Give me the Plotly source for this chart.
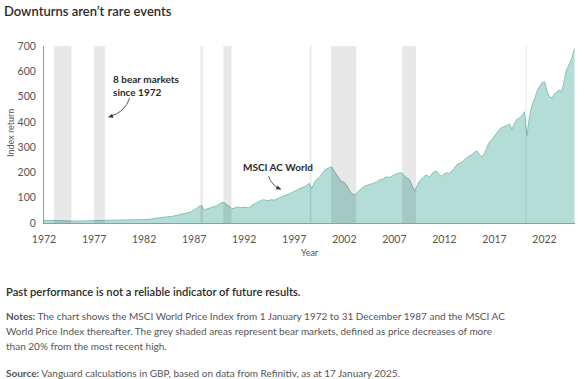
import pandas as pd
import plotly.graph_objects as go

# ---------------- data ----------------
start_date = "1972-01-01"
index_values = [
    10, 10.5, 11, 11,        # 1972
    11, 10, 9.5, 9,          # 1973
    8, 7, 6, 5.5,            # 1974
    6.5, 7, 7.5, 8,          # 1975
    8.5, 9, 9.5, 10,         # 1976
    10.5, 10.5, 10, 10,      # 1977
    10, 10.5, 11, 11,        # 1978
    11, 11.5, 11.5, 11,      # 1979
    11.5, 11.5, 12, 12.5,    # 1980
    12.5, 13, 13, 13,        # 1981
    13, 13.5, 14, 16,        # 1982
    18, 20, 21, 21,          # 1983
    23, 24, 24, 26,          # 1984
    28, 30, 31, 33,          # 1985
    36, 40, 42, 45,          # 1986
    50, 58, 66, 68,          # 1987
    52, 55, 57, 60,          # 1988
    63, 68, 74, 80,          # 1989
    82, 72, 68, 57,          # 1990
    58, 63, 62, 61,          # 1991
    63, 62, 60, 70,          # 1992
    75, 80, 86, 90,          # 1993
    92, 88, 90, 92,          # 1994
    90, 95, 100, 105,        # 1995
    108, 112, 115, 120,      # 1996
    125, 130, 138, 140,      # 1997
    142, 150, 157, 135,      # 1998
    160, 172, 180, 193,      # 1999
    208, 215, 220, 222,      # 2000
    205, 190, 175, 165,      # 2001
    160, 150, 130, 118,      # 2002
    110, 120, 130, 137,      # 2003
    145, 148, 150, 155,      # 2004
    158, 162, 170, 172,      # 2005
    178, 182, 180, 186,      # 2006
    190, 195, 197, 199,      # 2007
    185, 180, 172, 150,      # 2008
    125, 145, 165, 175,      # 2009
    185, 190, 180, 195,      # 2010
    203, 205, 190, 185,      # 2011
    195, 198, 196, 205,      # 2012
    220, 230, 236, 240,      # 2013
    250, 258, 265, 270,      # 2014
    280, 285, 270, 262,      # 2015
    275, 300, 320, 330,      # 2016
    345, 360, 370, 378,      # 2017
    380, 385, 392, 370,      # 2018
    395, 410, 415, 425,      # 2019
    440, 345, 420, 465,      # 2020
    490, 520, 540, 555,      # 2021
    560, 520, 500, 495,      # 2022
    510, 520, 525, 520,      # 2023
    570, 610, 630, 655,      # 2024
    690,                     # 2025
]
dates = pd.date_range(start_date, periods=len(index_values), freq="QS")

bear_starts = ["1973-01-01", "1977-01-01", "1987-08-20", "1989-12-01",
               "1998-07-20", "2000-09-01", "2007-10-15", "2020-02-15"]
bear_ends = ["1974-09-25", "1978-02-01", "1987-11-15", "1990-09-25",
             "1998-09-20", "2003-03-10", "2009-03-05", "2020-03-23"]

tick_years = ["1972", "1977", "1982", "1987", "1992", "1997", "2002", "2007", "2012", "2017", "2022"]
y_ticks = [0, 100, 200, 300, 400, 500, 600, 700]

title_text = "Downturns aren’t rare events"
label_bear = "8 bear markets<br>since 1972"
label_series = "MSCI AC World"
disclaimer = "Past performance is not a reliable indicator of future results."
notes_lines = [
    "<b>Notes:</b> The chart shows the MSCI World Price Index from 1 January 1972 to 31 December 1987 and the MSCI AC",
    "World Price Index thereafter. The grey shaded areas represent bear markets, defined as price decreases of more",
    "than 20% from the most recent high.",
]
source_text = "<b>Source:</b> Vanguard calculations in GBP, based on data from Refinitiv, as at 17 January 2025."

# ---------------- figure ----------------
FONT = "Lato"
DARK = "#2b2b2b"
GREY = "#555555"

fig = go.Figure()
fig.add_trace(go.Scatter(
    x=dates, y=index_values, mode="lines",
    line=dict(color="#86c1b9", width=1),
    fill="tozeroy", fillcolor="#b5ddd8",
    hoverinfo="skip", showlegend=False,
))

shapes = []
for s, e in zip(bear_starts, bear_ends):
    shapes.append(dict(type="rect", xref="x", yref="paper", x0=s, x1=e, y0=0, y1=1,
                       fillcolor="rgba(0,0,0,0.09)", line=dict(width=0), layer="above"))
# curved annotation arrows
shapes.append(dict(type="path", xref="x", yref="y",
                   path="M 1980-07-26,495 Q 1980-02-06,436 1978-06-07,419",
                   line=dict(color="#333333", width=0.8), layer="above"))
shapes.append(dict(type="path", xref="x", yref="y",
                   path="M 1994-06-07,186 Q 1994-09-12,149 1995-09-01,133",
                   line=dict(color="#333333", width=0.8), layer="above"))

annotations = [
    dict(x="1978-09-01", y=545, xref="x", yref="y", text=f"<b>{label_bear}</b>",
         showarrow=False, xanchor="left", yanchor="middle", align="left",
         font=dict(family=FONT, size=10, color=DARK)),
    dict(x="1978-06-07", y=419, xref="x", yref="y", text="", showarrow=True,
         ax=6, ay=-1.6, arrowhead=2, arrowsize=1, arrowwidth=0.9, arrowcolor="#333333",
         standoff=0),
    dict(x="1991-09-01", y=222, xref="x", yref="y", text=f"<b>{label_series}</b>",
         showarrow=False, xanchor="left", yanchor="middle",
         font=dict(family=FONT, size=10, color=DARK)),
    dict(x="1995-09-01", y=133, xref="x", yref="y", text="", showarrow=True,
         ax=-6, ay=-2.7, arrowhead=2, arrowsize=1, arrowwidth=0.9, arrowcolor="#333333",
         standoff=0),
    # axis titles
    dict(x=(310 - 44) / 531, y=(223 - 252) / 177, xref="paper", yref="paper", text="Year",
         showarrow=False, xanchor="center", yanchor="middle",
         font=dict(family=FONT, size=9, color=GREY)),
    dict(x=(10 - 44) / 531, y=(223 - 133) / 177, xref="paper", yref="paper", text="Index return",
         showarrow=False, textangle=-90, xanchor="center", yanchor="middle",
         font=dict(family=FONT, size=9, color=GREY)),
    # footer texts
    dict(x=(4 - 44) / 531, y=(223 - 291) / 177, xref="paper", yref="paper", text=disclaimer,
         showarrow=False, xanchor="left", yanchor="middle",
         font=dict(family=FONT, size=11.2, color=DARK, weight=600)),
]
for i, line in enumerate(notes_lines):
    annotations.append(dict(x=(4 - 44) / 531, y=(223 - (316 + 15 * i)) / 177, xref="paper", yref="paper",
                            text=line, showarrow=False, xanchor="left", yanchor="middle",
                            font=dict(family=FONT, size=10, color=GREY)))
annotations.append(dict(x=(4 - 44) / 531, y=(223 - 373) / 177, xref="paper", yref="paper",
                        text=source_text, showarrow=False, xanchor="left", yanchor="middle",
                        font=dict(family=FONT, size=10, color=GREY)))

fig.update_layout(
    width=584, height=379,
    margin=dict(l=44, r=9, t=46, b=156),
    paper_bgcolor="white", plot_bgcolor="white",
    title=dict(text=title_text, x=4 / 584, xanchor="left", xref="container",
               y=1 - 11 / 379, yanchor="middle", yref="container",
               font=dict(family=FONT, size=13, color=DARK, weight=600)),
    shapes=shapes, annotations=annotations,
    showlegend=False,
)
fig.update_xaxes(
    type="date", range=["1972-01-01", "2025-01-17"],
    tickvals=[f"{y}-01-01" for y in tick_years], ticktext=tick_years,
    showgrid=False, zeroline=False, showline=True, linecolor="#9a9a9a", linewidth=1,
    ticks="outside", ticklen=6, tickcolor="rgba(0,0,0,0)",
    tickfont=dict(family=FONT, size=10.5, color=GREY),
)
fig.update_yaxes(
    range=[0, 700], tickvals=y_ticks,
    showgrid=False, zeroline=False, showline=True, linecolor="#9a9a9a", linewidth=1,
    ticks="outside", ticklen=5, tickcolor="rgba(0,0,0,0)",
    tickfont=dict(family=FONT, size=10.5, color=GREY),
)

fig.write_html("out.html", config={"displayModeBar": False},
               post_script="document.body.style.margin='0';")
